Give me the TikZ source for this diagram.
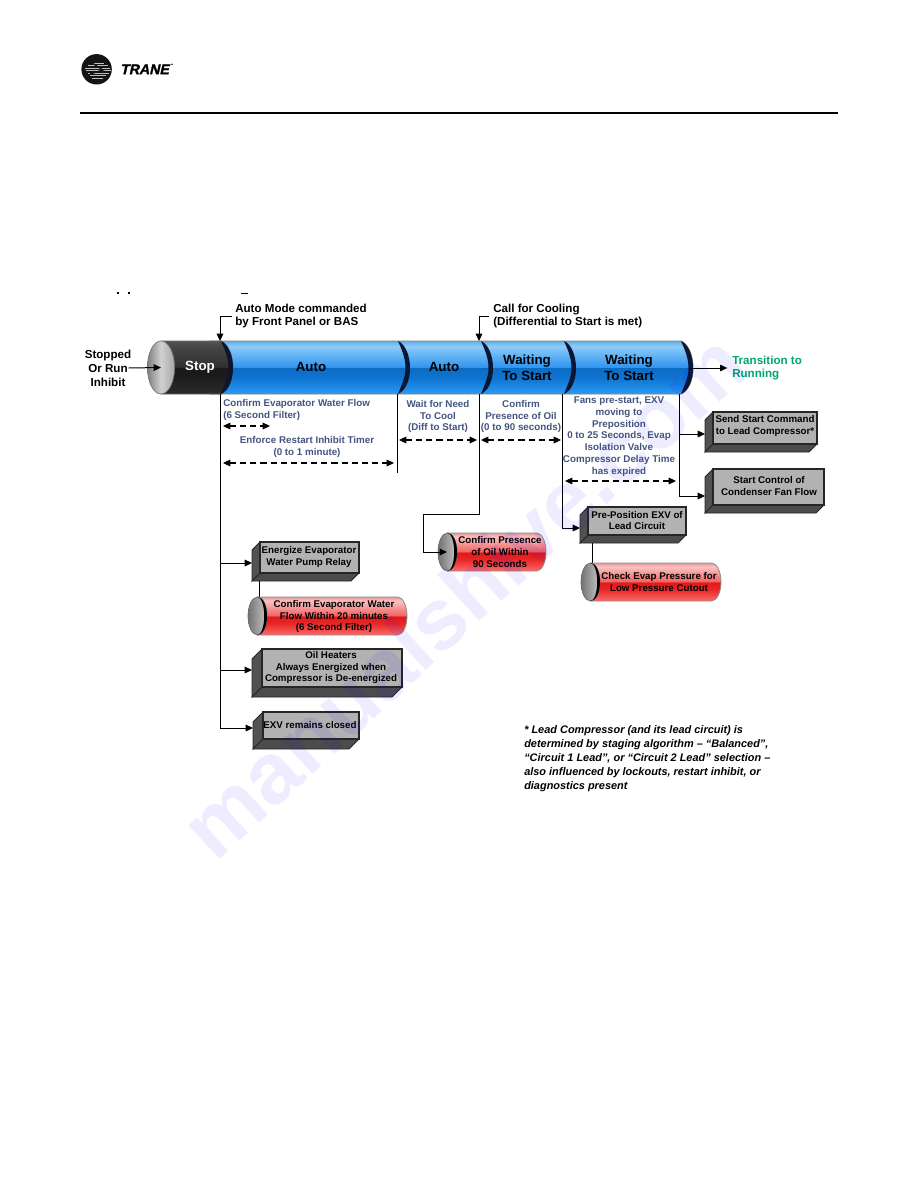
\documentclass[tikz,border=0pt]{standalone}
\usepackage{fontspec}
\setmainfont{Liberation Sans}
\newfontfamily\brandfont[FakeSlant=0.22,FakeBold=1.5]{Liberation Sans Bold}
\usetikzlibrary{arrows.meta,fit,shapes.geometric,calc}

\definecolor{notecol}{HTML}{43557F}
\definecolor{golive}{HTML}{00A66E}
\definecolor{arcnavy}{HTML}{0B1633}

\definecolor{blA}{HTML}{2A9BF5}
\definecolor{blB}{HTML}{0F74D0}
\definecolor{blC}{HTML}{0B6CC4}
\definecolor{blD}{HTML}{2F93EF}
\definecolor{blE}{HTML}{8CCCFA}
\definecolor{blF}{HTML}{62AEE8}
\definecolor{bkA}{HTML}{2C2C2C}
\definecolor{bkB}{HTML}{1C1C1C}
\definecolor{bkC}{HTML}{181818}
\definecolor{bkD}{HTML}{303030}
\definecolor{bkE}{HTML}{464646}
\definecolor{bkF}{HTML}{545454}
\definecolor{rdA}{HTML}{FF6A6A}
\definecolor{rdB}{HTML}{E82828}
\definecolor{rdC}{HTML}{E01818}
\definecolor{rdD}{HTML}{F26060}
\definecolor{rdE}{HTML}{FAC2C2}
\definecolor{rdF}{HTML}{EB9696}

% Tube bodies: the path covers 25bp..75bp of each shading
\pgfdeclareverticalshading{tubeblue}{100bp}{
  color(0bp)=(blA); color(25bp)=(blA); color(40bp)=(blB); color(49.9bp)=(blC);
  color(50.1bp)=(blD); color(70bp)=(blE); color(75bp)=(blF); color(100bp)=(blF)}
\pgfdeclareverticalshading{tubeblack}{100bp}{
  color(0bp)=(bkA); color(25bp)=(bkA); color(40bp)=(bkB); color(49.9bp)=(bkC);
  color(50.1bp)=(bkD); color(70bp)=(bkE); color(75bp)=(bkF); color(100bp)=(bkF)}
\pgfdeclareverticalshading{tubered}{100bp}{
  color(0bp)=(rdA); color(25bp)=(rdA); color(40bp)=(rdB); color(49.9bp)=(rdC);
  color(50.1bp)=(rdD); color(70bp)=(rdE); color(75bp)=(rdF); color(100bp)=(rdF)}

\tikzset{
  conn/.style={draw=black,line width=0.75pt},
  arrowed/.style={conn,-{Triangle[length=5.5pt,width=5pt]}},
  span/.style={draw=black,line width=0.8pt,dash pattern=on 4.6pt off 3pt,
    {Triangle[length=5.5pt,width=5pt]}-{Triangle[length=5.5pt,width=5pt]}},
  frame/.style={fit={#1},inner sep=0pt,outer sep=0pt},
  headtext/.style={inner sep=0pt,align=left,text=black,font=\fontsize{8.7}{10.3}\selectfont\bfseries},
  sidetext/.style={inner sep=0pt,align=center,text=black,font=\fontsize{8.7}{10.5}\selectfont\bfseries},
  note/.style={inner sep=0pt,align=center,text=notecol,font=\fontsize{7.35}{8.8}\selectfont\bfseries},
  notel/.style={note,align=left,anchor=west},
  boxtext/.style={inner sep=0pt,align=center,text=black,font=\fontsize{7.3}{8.7}\selectfont\bfseries},
  tubetext/.style={inner sep=0pt,align=center,font=\fontsize{10}{12}\selectfont\bfseries},
}

% Raised grey box: outer left, face x1 y1 x2 y2, outer bottom, port y, text position, text
\newcommand{\raisedbox}[9]{%
  \pgfmathsetmacro{\bxd}{#3-#2}%
  \pgfmathsetmacro{\bxr}{#5-\bxd}%
  \node[frame={(#2,#3)(#4,#6)}] (#1) {};
  \coordinate (#1 port) at (#2,#7);
  \fill[black!68,draw=black!85,line width=0.6pt] (#3,#4)--(#2,#4+\bxd)--(#2,#6)--(#3,#6-\bxd)--cycle;
  \fill[black!70,draw=black!85,line width=0.6pt] (#3,#6-\bxd)--(#5,#6-\bxd)--(\bxr,#6)--(#2,#6)--cycle;
  \fill[black!30,draw=black!85,line width=0.8pt] (#3,#4) rectangle (#5,#6-\bxd);
  \node[boxtext] (#1 label) at (#8) {#9};
}

% Red cylinder: x1 y1 x2 y2 and end-cap x radius
\newcommand{\redcyl}[6]{%
  \pgfmathsetmacro{\cym}{(#3+#5)/2}%
  \pgfmathsetmacro{\cyh}{(#5-#3)/2}%
  \pgfmathsetmacro{\cxl}{#2+#6}%
  \pgfmathsetmacro{\cxr}{#4-#6}%
  \pgfmathsetmacro{\cxk}{#4-#6*0.45}%
  \pgfmathsetmacro{\cyk}{\cyh*0.55}%
  \pgfmathsetmacro{\cxe}{\cxl+#6}%
  \pgfmathsetmacro{\cxi}{\cxe-2.8}%
  \pgfmathsetmacro{\cxek}{\cxl+#6*0.55}%
  \pgfmathsetmacro{\cxik}{\cxl+(#6-2.8)*0.55}%
  \node[frame={(#2,#3)(#4,#5)}] (#1) {};
  \path[shading=tubered,draw=black!45,line width=0.6pt]
    (\cxl,#3) -- (\cxr,#3) .. controls (\cxk,#3) and (#4,\cym-\cyk) .. (#4,\cym)
    .. controls (#4,\cym+\cyk) and (\cxk,#5) .. (\cxr,#5) -- (\cxl,#5) -- cycle;
  \shade[left color=black!55,right color=black!22,draw=black!60,line width=0.5pt]
    (\cxl,\cym) ellipse [x radius=#6,y radius=\cyh];
  \fill[black] (\cxl,#3) .. controls (\cxek,#3) and (\cxe,\cym-\cyk) .. (\cxe,\cym)
    .. controls (\cxe,\cym+\cyk) and (\cxek,#5) .. (\cxl,#5)
    .. controls (\cxik,#5) and (\cxi,\cym+\cyk) .. (\cxi,\cym)
    .. controls (\cxi,\cym-\cyk) and (\cxik,#3) .. cycle;
}

% Dark crescent closing a tube section, right edge at x
\newcommand{\tubearc}[1]{%
  \fill[arcnavy] (#1-12,341) .. controls (#1-5,344) and (#1,355) .. (#1,368)
    .. controls (#1,381) and (#1-5,391) .. (#1-12,394)
    .. controls (#1-9,386) and (#1-4.5,378) .. (#1-4.5,368)
    .. controls (#1-4.5,357) and (#1-9,348) .. cycle;
}

\begin{document}
\begin{tikzpicture}[x=0.75pt,y=-0.75pt]
\useasboundingbox (0,0) rectangle (918,1188);
\fill[white] (0,0) rectangle (918,1188);

% Page header: logo, wordmark and rule
\fill[black!92] (96.6,69.3) circle [radius=15.2];
\foreach \ya/\xa/\xb in {63/92/104,65.5/88/108,68/85/110,70.5/86/111,73/88/109,75.5/90/106,78/92/103}
  \draw[white!75!black,line width=0.6pt] (\xa,\ya) -- (\xb,\ya);
\draw[black!92,line width=1pt] (92,63) -- (103,70) -- (90,74);
\node[inner sep=0pt,anchor=west,font=\fontsize{10.6}{12}\brandfont] (brand) at (120,69.3) {TRANE};
\fill[black] (172,64.3) circle [radius=0.8];
\draw[black,line width=1.5pt] (80,112.7) -- (838,112.7);

% Remains of a cropped heading line
\fill[black] (117,292.4) rectangle (119,294);
\fill[black] (128,292.4) rectangle (130,294);
\fill[black] (241,293) rectangle (248,294.4);

% Frames of the tube sections
\node[frame={(161,341)(220,394)}] (stop) {};
\node[frame={(220,341)(397,394)}] (autoA) {};
\node[frame={(397,341)(479,394)}] (autoB) {};
\node[frame={(479,341)(562,394)}] (waitA) {};
\node[frame={(562,341)(679,394)}] (waitB) {};
\coordinate (tubeTip) at (690,368);

% Main tube
\path[shading=tubeblue,draw=black!50,line width=0.7pt]
  (210,341) -- (681,341) .. controls (688,344) and (693,355) .. (693,368)
  .. controls (693,381) and (688,391) .. (681,394) -- (210,394) -- cycle;
\path[shading=tubeblack,draw=black!60,line width=0.5pt]
  (161,341) -- (221,341) .. controls (228,344) and (233,355) .. (233,368)
  .. controls (233,381) and (228,391) .. (221,394) -- (161,394) -- cycle;
\shade[left color=black!50,right color=black!35,middle color=black!18,draw=black!55,line width=0.5pt]
  (161,367.5) ellipse [x radius=13.6,y radius=26.5];
\node[frame={(147.4,341)(174.6,394)}] (endcap) {};
\foreach \x in {233,410,493,576,693} {\tubearc{\x}}

% Tube labels
\node[tubetext,text=white] (stopText) at (200,367) {Stop};
\node[tubetext] (autoAText) at (311,367) {Auto};
\node[tubetext] (autoBText) at (444,367) {Auto};
\node[tubetext] (waitAText) at (527,368) {Waiting\\To Start};
\node[tubetext] (waitBText) at (629,368) {Waiting\\To Start};

% Event captions above and around the tube
\node[headtext,anchor=west] (autoCmd) at (235,316) {Auto Mode commanded\\by Front Panel or BAS};
\node[headtext,anchor=west] (callCool) at (493,316) {Call for Cooling\\(Differential to Start is met)};
\node[sidetext] (stopped) at (108,368) {Stopped\\Or Run\\Inhibit};
\node[headtext,anchor=west,text=golive] (running) at (732,368) {Transition to\\Running};

% Grey action boxes
\raisedbox{energize}{252}{260}{542}{359}{581}{563}{309,557}{Energize Evaporator\\Water Pump Relay}
\raisedbox{heaters}{252}{262}{649}{402}{697}{670}{331,667.5}{Oil Heaters\\Always Energized when\\Compressor is De-energized}
\raisedbox{exvclosed}{253}{263}{712}{359}{749}{728}{310,725.5}{EXV remains closed}
\raisedbox{preposition}{580}{588}{507}{686}{543}{528}{637,520.5}{Pre-Position EXV of\\Lead Circuit}
\raisedbox{sendstart}{705}{713}{412}{817}{452}{434}{765,426}{Send Start Command\\to Lead Compressor*}
\raisedbox{condfan}{705}{713}{469}{824}{513}{496}{769,486}{Start Control of\\Condenser Fan Flow}

% Connectors leaving the tube
\draw[arrowed] ([xshift=-2pt]autoCmd.west) -| (stop.north east);
\draw[arrowed] ([xshift=-3pt]callCool.west) -| (autoB.north east);
\draw[arrowed] ([xshift=15.5pt]stopped.center) -- (endcap.center);
\draw[arrowed] (tubeTip) -- ([xshift=-3.5pt]running.west);

\draw[arrowed] (stop.south east) |- (energize port);
\draw[arrowed] (stop.south east) |- (heaters port);
\draw[arrowed] (stop.south east) |- (exvclosed port);

\coordinate (restartEnd) at (397,473);
\draw[conn] (autoA.south east) -- (restartEnd);

\coordinate (oilJog) at (423,514);
\coordinate (oilPort) at (447,552);
\coordinate (energizeFoot) at (259,581);
\coordinate (waterCylTop) at (259,597);
\coordinate (prepFoot) at (592,543);
\coordinate (lowCylTop) at (592,563);

\draw[arrowed] (waitB.south east) |- (sendstart port);
\draw[arrowed] (waitB.south east) |- (condfan port);
\draw[arrowed] (waitB.south west) |- (preposition port);
\draw[conn] (energizeFoot) -- (waterCylTop);
\draw[conn] (prepFoot) -- (lowCylTop);

% Red check cylinders
\redcyl{waterCheck}{248}{597}{407}{635}{9.5}
\node[boxtext] (waterCheckText) at (334,616.5) {Confirm Evaporator Water\\Flow Within 20 minutes\\(6 Second Filter)};
\redcyl{oilCheck}{438}{533}{546}{571}{9.5}
\node[boxtext] (oilCheckText) at (500,552) {Confirm Presence\\of Oil Within\\90 Seconds};
\redcyl{lowCheck}{581}{563}{721}{601}{9.5}
\node[boxtext] (lowCheckText) at (659,582) {Check Evap Pressure for\\Low Pressure Cutout};

\draw[conn] (waitA.south west) |- (oilJog);
\draw[arrowed] (oilJog) |- (oilPort);

% Timing notes under the tube
\node[notel] (flowNote) at (223,410) {Confirm Evaporator Water Flow\\(6 Second Filter)};
\node[note] (inhibitNote) at (307,447) {Enforce Restart Inhibit Timer\\(0 to 1 minute)};
\node[note] (needNote) at (438,416.5) {Wait for Need\\To Cool\\(Diff to Start)};
\node[note] (oilNote) at (521,416.5) {Confirm\\Presence of Oil\\(0 to 90 seconds)};
\node[note] (fanNote) at (619,436.5) {Fans pre-start, EXV\\moving to\\Preposition\\0 to 25 Seconds, Evap\\Isolation Valve\\Compressor Delay Time\\has expired};

% Dashed duration spans
\coordinate (flowA) at (223,426);   \coordinate (flowB) at (270,426);
\coordinate (timerA) at (223,463);  \coordinate (timerB) at (394,463);
\coordinate (needA) at (399,440);   \coordinate (needB) at (477,440);
\coordinate (oilA) at (481,440);    \coordinate (oilB) at (561,440);
\coordinate (fanA) at (565,481);    \coordinate (fanB) at (676,481);
\draw[span] (flowA) -- (flowB);
\draw[span] (timerA) -- (timerB);
\draw[span] (needA) -- (needB);
\draw[span] (oilA) -- (oilB);
\draw[span] (fanA) -- (fanB);

% Footnote
\node[inner sep=0pt,anchor=north west,align=left,font=\fontsize{8.2}{10.5}\selectfont\bfseries\itshape] (footnote) at (524,725)
  {* Lead Compressor (and its lead circuit) is\\determined by staging algorithm – “Balanced”,\\“Circuit 1 Lead”, or “Circuit 2 Lead” selection –\\also influenced by lockouts, restart inhibit, or\\diagnostics present};

% Faint diagonal site stamp over the page
\node[inner sep=0pt,rotate=42.5,text=blue,text opacity=0.07,font=\fontsize{65}{70}\selectfont\bfseries] (stamp) at (463,595) {manualshive.com};
\end{tikzpicture}
\end{document}
